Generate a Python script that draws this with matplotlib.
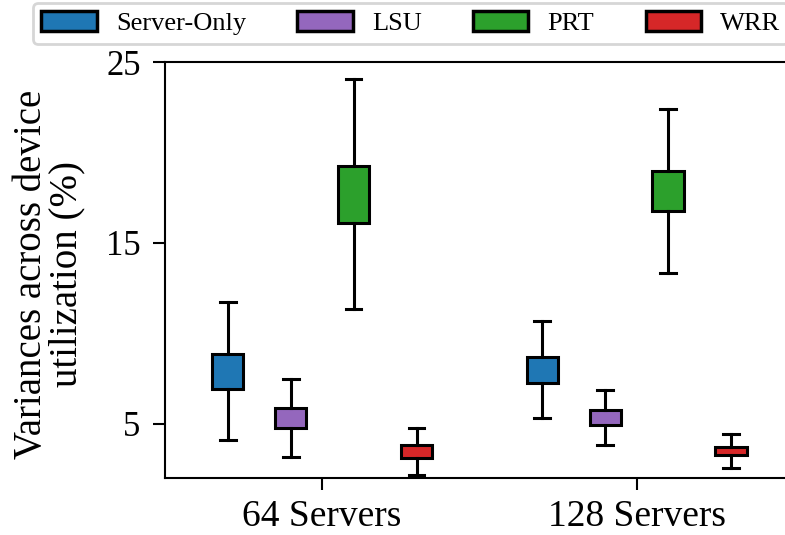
import matplotlib
matplotlib.use("Agg")
import matplotlib.pyplot as plt
from matplotlib.patches import Patch

plt.rcParams['font.family'] = ['Liberation Serif', 'DejaVu Serif']

groups = ['64 Servers', '128 Servers']
methods = ['Server-Only', 'LSU', 'PRT', 'WRR']
colors = ['#1f77b4', '#9467bd', '#2ca02c', '#d62728']

# [whisker low, q1, q3, whisker high] per method, per group
stats_64 = [[4.1, 6.93, 8.87, 11.75],
            [3.18, 4.74, 5.85, 7.46],
            [11.37, 16.09, 19.28, 24.06],
            [2.18, 3.13, 3.81, 4.78]]
stats_128 = [[5.3, 7.28, 8.69, 10.7],
             [3.81, 4.93, 5.74, 6.87],
             [13.35, 16.78, 19.0, 22.4],
             [2.57, 3.26, 3.72, 4.41]]
all_stats = [stats_64, stats_128]

offsets = [-0.3, -0.1, 0.1, 0.3]

fig = plt.figure(figsize=(7.85, 5.35), dpi=100)
ax = fig.add_axes([0.210, 0.1065, 0.8015, 0.7775])

for gi, gstats in enumerate(all_stats):
    for mi, s in enumerate(gstats):
        lo, q1, q3, hi = s
        st = [dict(whislo=lo, q1=q1, med=(q1 + q3) / 2, q3=q3, whishi=hi, fliers=[])]
        ax.bxp(st, positions=[gi + offsets[mi]], widths=0.1, patch_artist=True,
               boxprops=dict(facecolor=colors[mi], edgecolor='black', linewidth=2.2),
               whiskerprops=dict(color='black', linewidth=2.2),
               capprops=dict(color='black', linewidth=2.2),
               medianprops=dict(visible=False),
               showfliers=False, manage_ticks=False)

ax.set_xlim(-0.5, 1.5)
ax.set_ylim(2, 25)
ax.set_xticks([0, 1])
ax.set_xticklabels(groups, fontsize=27)
ax.set_yticks([5, 15, 25])
ax.tick_params(axis='y', labelsize=25, length=8.5, width=1.5, pad=9)
ax.tick_params(axis='x', length=8.5, width=1.5, pad=7)
for sp in ax.spines.values():
    sp.set_linewidth(1.5)
ax.set_ylabel('Variances across device\nutilization (%)', fontsize=28, linespacing=0.92)
ax.yaxis.set_label_coords(-0.127, 0.49)

handles = [Patch(facecolor=c, edgecolor='black', linewidth=2.5) for c in colors]
leg = fig.legend(handles, methods, loc='upper left', bbox_to_anchor=(0.042, 0.995),
                 ncol=4, fontsize=19, handlelength=2.1, handleheight=0.8,
                 columnspacing=1.95, handletextpad=0.72, borderaxespad=0,
                 borderpad=0.32, frameon=True)
leg.get_frame().set_linewidth(2)

fig.savefig('out.png', dpi=100)
